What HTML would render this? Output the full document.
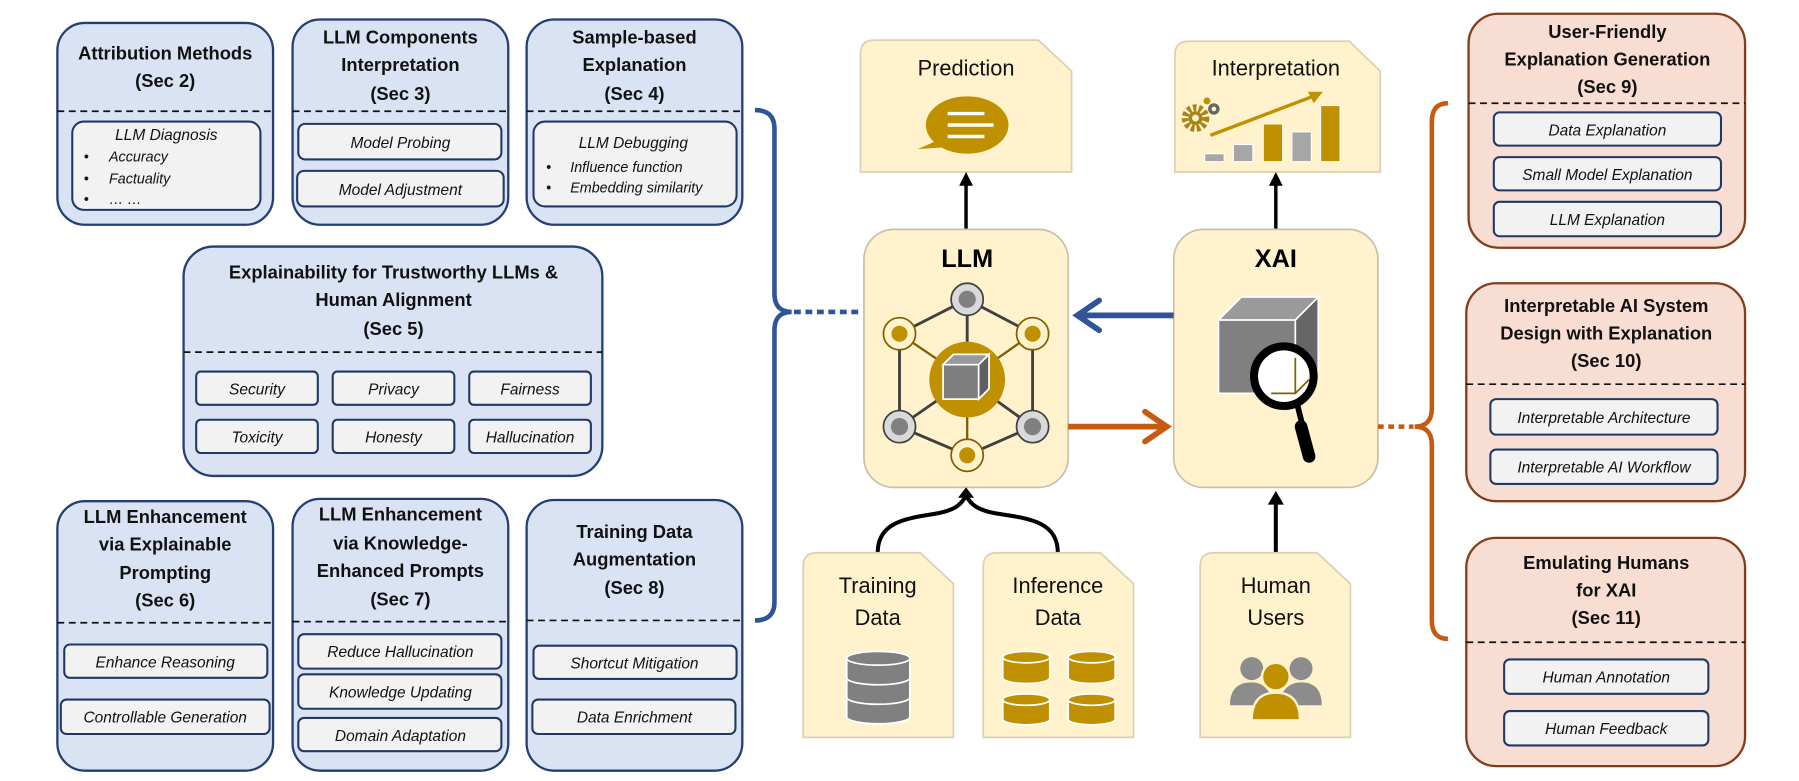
<!DOCTYPE html>
<html><head><meta charset="utf-8"><style>
html,body{margin:0;padding:0;background:#fff;}
svg{display:block}
.t{font-family:"Liberation Sans Narrow","Liberation Sans",sans-serif;font-weight:bold;font-size:16px;fill:#111;text-anchor:middle}
.i{font-family:"Liberation Sans Narrow","Liberation Sans",sans-serif;font-style:italic;font-size:13.5px;fill:#111;text-anchor:middle}
.il{font-family:"Liberation Sans Narrow","Liberation Sans",sans-serif;font-style:italic;font-size:12.5px;fill:#111}
.c{font-family:"Liberation Sans",sans-serif;font-size:19px;fill:#111;text-anchor:middle}
.bb{fill:#dae3f3;stroke:#243f73;stroke-width:2}
.ob{fill:#f8ddd3;stroke:#843c1a;stroke-width:2}
.in{fill:#f2f2f2;stroke:#1f3864;stroke-width:1.8}
.d{stroke:#111;stroke-width:1.5;stroke-dasharray:6 4}
.y{fill:#fff2cc;stroke:#d9d0b5;stroke-width:1.5}
</style></head><body>
<svg width="1799" height="781" viewBox="0 0 1568 681" preserveAspectRatio="none" xmlns="http://www.w3.org/2000/svg">
<!-- Left blue boxes -->
<rect class="bb" x="50" y="20" width="188" height="176" rx="24"/>
<text class="t" x="144" y="52">Attribution Methods</text><text class="t" x="144" y="76">(Sec 2)</text>
<line class="d" x1="50" y1="97" x2="238" y2="97"/>
<rect class="in" x="63" y="106" width="164" height="77" rx="10"/>
<text class="i" x="145" y="122">LLM Diagnosis</text>
<text class="il" x="95" y="141">Accuracy</text><text class="il" x="95" y="160">Factuality</text><text class="il" x="95" y="178">… …</text>
<text class="il" x="73" y="141">•</text><text class="il" x="73" y="160">•</text><text class="il" x="73" y="178">•</text>

<rect class="bb" x="255" y="17" width="188" height="179" rx="24"/>
<text class="t" x="349" y="38">LLM Components</text><text class="t" x="349" y="62">Interpretation</text><text class="t" x="349" y="87">(Sec 3)</text>
<line class="d" x1="255" y1="97" x2="443" y2="97"/>
<rect class="in" x="260" y="108" width="177" height="31" rx="6"/><text class="i" x="349" y="129">Model Probing</text>
<rect class="in" x="259" y="149" width="180" height="31" rx="6"/><text class="i" x="349" y="170">Model Adjustment</text>

<rect class="bb" x="459" y="17" width="188" height="179" rx="24"/>
<text class="t" x="553" y="38">Sample-based</text><text class="t" x="553" y="62">Explanation</text><text class="t" x="553" y="87">(Sec 4)</text>
<line class="d" x1="459" y1="97" x2="647" y2="97"/>
<rect class="in" x="465" y="106" width="177" height="74" rx="10"/>
<text class="i" x="552" y="129">LLM Debugging</text>
<text class="il" x="497" y="150">Influence function</text><text class="il" x="497" y="168">Embedding similarity</text>
<text class="il" x="476" y="150">•</text><text class="il" x="476" y="168">•</text>

<rect class="bb" x="160" y="215" width="365" height="200" rx="26"/>
<text class="t" x="343" y="243">Explainability for Trustworthy LLMs &amp;</text>
<text class="t" x="343" y="267">Human Alignment</text><text class="t" x="343" y="292">(Sec 5)</text>
<line class="d" x1="160" y1="307" x2="525" y2="307"/>
<rect class="in" x="171" y="324" width="106" height="29" rx="4"/><text class="i" x="224" y="344">Security</text>
<rect class="in" x="290" y="324" width="106" height="29" rx="4"/><text class="i" x="343" y="344">Privacy</text>
<rect class="in" x="409" y="324" width="106" height="29" rx="4"/><text class="i" x="462" y="344">Fairness</text>
<rect class="in" x="171" y="366" width="106" height="29" rx="4"/><text class="i" x="224" y="386">Toxicity</text>
<rect class="in" x="290" y="366" width="106" height="29" rx="4"/><text class="i" x="343" y="386">Honesty</text>
<rect class="in" x="409" y="366" width="106" height="29" rx="4"/><text class="i" x="462" y="386">Hallucination</text>

<rect class="bb" x="50" y="437" width="188" height="235" rx="24"/>
<text class="t" x="144" y="456">LLM Enhancement</text><text class="t" x="144" y="480">via Explainable</text><text class="t" x="144" y="505">Prompting</text><text class="t" x="144" y="529">(Sec 6)</text>
<line class="d" x1="50" y1="543" x2="238" y2="543"/>
<rect class="in" x="56" y="562" width="177" height="29" rx="5"/><text class="i" x="144" y="582">Enhance Reasoning</text>
<rect class="in" x="53" y="610" width="182" height="30" rx="5"/><text class="i" x="144" y="630">Controllable Generation</text>

<rect class="bb" x="255" y="435" width="188" height="237" rx="24"/>
<text class="t" x="349" y="454">LLM Enhancement</text><text class="t" x="349" y="479">via Knowledge-</text><text class="t" x="349" y="503">Enhanced Prompts</text><text class="t" x="349" y="528">(Sec 7)</text>
<line class="d" x1="255" y1="542" x2="443" y2="542"/>
<rect class="in" x="260" y="553" width="177" height="30" rx="5"/><text class="i" x="349" y="573">Reduce Hallucination</text>
<rect class="in" x="260" y="588" width="177" height="30" rx="5"/><text class="i" x="349" y="608">Knowledge Updating</text>
<rect class="in" x="260" y="626" width="177" height="29" rx="5"/><text class="i" x="349" y="646">Domain Adaptation</text>

<rect class="bb" x="459" y="436" width="188" height="236" rx="24"/>
<text class="t" x="553" y="469">Training Data</text><text class="t" x="553" y="493">Augmentation</text><text class="t" x="553" y="518">(Sec 8)</text>
<line class="d" x1="459" y1="541" x2="647" y2="541"/>
<rect class="in" x="465" y="563" width="177" height="29" rx="5"/><text class="i" x="553" y="583">Shortcut Mitigation</text>
<rect class="in" x="464" y="610" width="177" height="30" rx="5"/><text class="i" x="553" y="630">Data Enrichment</text>

<!-- blue bracket -->
<path d="M658 96 Q675 96 675 112 L675 256 Q675 272 690 272 Q675 272 675 288 L675 525 Q675 541 658 541" fill="none" stroke="#2f5597" stroke-width="4"/>
<line x1="692" y1="272" x2="752" y2="272" stroke="#2f5597" stroke-width="4" stroke-dasharray="6 4"/>

<!-- docs top -->
<path class="y" d="M762 35 L905 35 L934 62 L934 150 L750 150 L750 47 Q750 35 762 35Z"/>
<text class="c" x="842" y="66">Prediction</text>
<ellipse cx="843" cy="109" rx="36" ry="25" fill="#bf9000"/>
<path d="M818 122 L800 130 L830 128Z" fill="#bf9000"/>
<line x1="826" y1="99" x2="858" y2="99" stroke="#fff" stroke-width="3"/>
<line x1="826" y1="109" x2="866" y2="109" stroke="#fff" stroke-width="3"/>
<line x1="826" y1="119" x2="858" y2="119" stroke="#fff" stroke-width="3"/>

<path class="y" d="M1036 36 L1176 36 L1203 62 L1203 150 L1024 150 L1024 48 Q1024 36 1036 36Z"/>
<text class="c" x="1112" y="66">Interpretation</text>
<rect x="1050" y="134" width="17" height="7" fill="#a6a6a6" stroke="#fff"/>
<rect x="1075" y="126" width="17" height="15" fill="#a6a6a6" stroke="#fff"/>
<rect x="1101" y="108" width="17" height="33" fill="#bf9000" stroke="#fff"/>
<rect x="1126" y="115" width="17" height="26" fill="#a6a6a6" stroke="#fff"/>
<rect x="1151" y="92" width="17" height="49" fill="#bf9000" stroke="#fff"/>
<line x1="1055" y1="118" x2="1147" y2="83" stroke="#bf9000" stroke-width="3"/>
<path d="M1153 80 L1140 80 L1145 90Z" fill="#bf9000"/>
<circle cx="1042" cy="103" r="9" fill="none" stroke="#a88418" stroke-width="6" stroke-dasharray="3 2"/>
<circle cx="1042" cy="103" r="6" fill="#a88418"/><circle cx="1042" cy="103" r="3" fill="#fff2cc"/>
<circle cx="1058" cy="95" r="5" fill="#666"/><circle cx="1058" cy="95" r="2" fill="#fff2cc"/>
<circle cx="1052" cy="88" r="3" fill="#bf9000"/>

<!-- arrows up -->
<line x1="842" y1="200" x2="842" y2="160" stroke="#000" stroke-width="3"/><path d="M836 162 L842 150 L848 162Z"/>
<line x1="1112" y1="200" x2="1112" y2="160" stroke="#000" stroke-width="3"/><path d="M1106 162 L1112 150 L1118 162Z"/>

<!-- LLM box -->
<rect x="753" y="200" width="178" height="225" rx="26" fill="#fff2cc" stroke="#c9c0a8" stroke-width="1.5"/>
<text x="843" y="233" text-anchor="middle" font-family="Liberation Sans,sans-serif" font-weight="bold" font-size="22">LLM</text>
<g stroke="#404040" stroke-width="2.5" fill="none">
<path d="M843 261 L784 291 L784 372 L843 397 L900 372 L900 291 Z"/>
<line x1="843" y1="261" x2="843" y2="331"/><line x1="784" y1="372" x2="843" y2="331"/><line x1="900" y1="372" x2="843" y2="331"/>
</g>
<g stroke="#7f6000" stroke-width="2"><line x1="784" y1="291" x2="843" y2="331"/><line x1="900" y1="291" x2="843" y2="331"/><line x1="843" y1="397" x2="843" y2="331"/></g>
<circle cx="843" cy="331" r="33" fill="#bf9000"/>
<path d="M822 318 L831 309 L862 309 L862 339 L853 348 L822 348 Z" fill="#7f7f7f" stroke="#fff" stroke-width="1.5"/>
<path d="M822 318 L831 309 L862 309 L853 318 Z" fill="#999" stroke="#fff" stroke-width="1.5"/>
<path d="M853 318 L862 309 L862 339 L853 348Z" fill="#5f5f5f" stroke="#fff" stroke-width="1.5"/>
<g stroke="#404040" stroke-width="1.5"><circle cx="843" cy="261" r="14" fill="#d9d9d9"/><circle cx="784" cy="372" r="14" fill="#d9d9d9"/><circle cx="900" cy="372" r="14" fill="#d9d9d9"/></g>
<g fill="#808080"><circle cx="843" cy="261" r="7.5"/><circle cx="784" cy="372" r="7.5"/><circle cx="900" cy="372" r="7.5"/></g>
<g stroke="#7f6000" stroke-width="1.5" fill="#fff2cc"><circle cx="784" cy="291" r="14"/><circle cx="900" cy="291" r="14"/><circle cx="843" cy="397" r="14"/></g>
<g fill="#bf9000"><circle cx="784" cy="291" r="7"/><circle cx="900" cy="291" r="7"/><circle cx="843" cy="397" r="7"/></g>

<!-- XAI box -->
<rect x="1023" y="200" width="178" height="225" rx="26" fill="#fff2cc" stroke="#c9c0a8" stroke-width="1.5"/>
<text x="1112" y="233" text-anchor="middle" font-family="Liberation Sans,sans-serif" font-weight="bold" font-size="22">XAI</text>
<path d="M1062 279 L1082 259 L1149 259 L1149 323 L1129 343 L1062 343Z" fill="#808080" stroke="#fff" stroke-width="1.5"/>
<path d="M1062 279 L1082 259 L1149 259 L1129 279Z" fill="#9a9a9a" stroke="#fff" stroke-width="1.5"/>
<path d="M1129 279 L1149 259 L1149 323 L1129 343Z" fill="#666" stroke="#fff" stroke-width="1.5"/>
<circle cx="1119" cy="328" r="26" fill="#fff"/>
<path d="M1129 312 L1129 343 L1108 343 M1129 343 L1141 331" stroke="#7f6000" stroke-width="1.5" fill="none"/>
<circle cx="1119" cy="328" r="26" fill="none" stroke="#000" stroke-width="7"/>
<line x1="1131" y1="354" x2="1135" y2="370" stroke="#000" stroke-width="5"/>
<line x1="1134" y1="372" x2="1141" y2="398" stroke="#000" stroke-width="11" stroke-linecap="round"/>

<!-- middle arrows -->
<line x1="1023" y1="275" x2="940" y2="275" stroke="#2f5597" stroke-width="5"/>
<path d="M958 262 L939 275 L958 288" fill="none" stroke="#2f5597" stroke-width="5" stroke-linecap="round"/>
<line x1="931" y1="372" x2="1016" y2="372" stroke="#c55a11" stroke-width="5"/>
<path d="M998 359 L1017 372 L998 385" fill="none" stroke="#c55a11" stroke-width="5" stroke-linecap="round"/>

<!-- orange bracket -->
<line x1="1201" y1="372" x2="1232" y2="372" stroke="#c55a11" stroke-width="4" stroke-dasharray="5 4"/>
<path d="M1262 90 Q1248 90 1248 106 L1248 356 Q1248 372 1233 372 Q1248 372 1248 388 L1248 541 Q1248 557 1262 557" fill="none" stroke="#c55a11" stroke-width="4"/>

<!-- right boxes -->
<rect class="ob" x="1280" y="12" width="241" height="204" rx="26"/>
<text class="t" x="1401" y="33">User-Friendly</text><text class="t" x="1401" y="57">Explanation Generation</text><text class="t" x="1401" y="81">(Sec 9)</text>
<line class="d" x1="1280" y1="90" x2="1521" y2="90"/>
<rect class="in" x="1302" y="98" width="198" height="29" rx="5"/><text class="i" x="1401" y="118">Data Explanation</text>
<rect class="in" x="1302" y="137" width="198" height="29" rx="5"/><text class="i" x="1401" y="157">Small Model Explanation</text>
<rect class="in" x="1302" y="176" width="198" height="30" rx="5"/><text class="i" x="1401" y="196">LLM Explanation</text>

<rect class="ob" x="1278" y="247" width="243" height="190" rx="26"/>
<text class="t" x="1400" y="272">Interpretable AI System</text><text class="t" x="1400" y="296">Design with Explanation</text><text class="t" x="1400" y="320">(Sec 10)</text>
<line class="d" x1="1278" y1="335" x2="1521" y2="335"/>
<rect class="in" x="1299" y="348" width="198" height="31" rx="5"/><text class="i" x="1398" y="369">Interpretable Architecture</text>
<rect class="in" x="1299" y="392" width="198" height="30" rx="5"/><text class="i" x="1398" y="412">Interpretable AI Workflow</text>

<rect class="ob" x="1278" y="469" width="243" height="199" rx="26"/>
<text class="t" x="1400" y="496">Emulating Humans</text><text class="t" x="1400" y="520">for XAI</text><text class="t" x="1400" y="544">(Sec 11)</text>
<line class="d" x1="1278" y1="560" x2="1521" y2="560"/>
<rect class="in" x="1311" y="575" width="178" height="30" rx="5"/><text class="i" x="1400" y="595">Human Annotation</text>
<rect class="in" x="1311" y="620" width="178" height="30" rx="5"/><text class="i" x="1400" y="640">Human Feedback</text>

<!-- bottom curves -->
<path d="M765 482 C765 455 790 452 815 448 C832 445 838 440 842 432" fill="none" stroke="#000" stroke-width="3.5"/>
<path d="M922 482 C922 455 897 452 870 448 C852 445 846 440 842 432" fill="none" stroke="#000" stroke-width="3.5"/>
<path d="M835 434 L842 425 L849 434Z"/>
<line x1="1112" y1="482" x2="1112" y2="438" stroke="#000" stroke-width="3.5"/><path d="M1105 440 L1112 428 L1119 440Z"/>

<!-- bottom docs -->
<path class="y" d="M712 482 L802 482 L831 509 L831 643 L700 643 L700 494 Q700 482 712 482Z"/>
<text class="c" x="765" y="517">Training</text><text class="c" x="765" y="545">Data</text>
<g fill="#808080" stroke="#fff" stroke-width="1.5">
<path d="M738 574 L738 625 A27 6 0 0 0 793 625 L793 574Z"/>
<path d="M738 591 A27 6 0 0 0 793 591" fill="none"/><path d="M738 608 A27 6 0 0 0 793 608" fill="none"/>
<ellipse cx="765.5" cy="574" rx="27.5" ry="6"/>
</g>
<path class="y" d="M869 482 L959 482 L988 509 L988 643 L857 643 L857 494 Q857 482 869 482Z"/>
<text class="c" x="922" y="517">Inference</text><text class="c" x="922" y="545">Data</text>
<g fill="#bf9000" stroke="#fff" stroke-width="1.5">
<path d="M874 573 L874 591 A20.5 5 0 0 0 915 591 L915 573Z"/><ellipse cx="894.5" cy="573" rx="20.5" ry="5"/>
<path d="M931 573 L931 591 A20.5 5 0 0 0 972 591 L972 573Z"/><ellipse cx="951.5" cy="573" rx="20.5" ry="5"/>
<path d="M874 610 L874 627 A20.5 5 0 0 0 915 627 L915 610Z"/><ellipse cx="894.5" cy="610" rx="20.5" ry="5"/>
<path d="M931 610 L931 627 A20.5 5 0 0 0 972 627 L972 610Z"/><ellipse cx="951.5" cy="610" rx="20.5" ry="5"/>
</g>
<path class="y" d="M1058 482 L1148 482 L1177 509 L1177 643 L1046 643 L1046 494 Q1046 482 1058 482Z"/>
<text class="c" x="1112" y="517">Human</text><text class="c" x="1112" y="545">Users</text>
<g fill="#8c8c8c">
<circle cx="1091" cy="583" r="10"/><path d="M1072 615 Q1072 595 1091 595 Q1106 595 1110 615Z"/>
<circle cx="1134" cy="583" r="10"/><path d="M1114 615 Q1118 595 1134 595 Q1152 595 1152 615Z"/>
</g>
<circle cx="1112" cy="590" r="12" fill="#bf9000" stroke="#fff2cc" stroke-width="2"/>
<path d="M1091 628 Q1091 604 1112 604 Q1133 604 1133 628Z" fill="#bf9000" stroke="#fff2cc" stroke-width="2"/>
</svg>
</body></html>
